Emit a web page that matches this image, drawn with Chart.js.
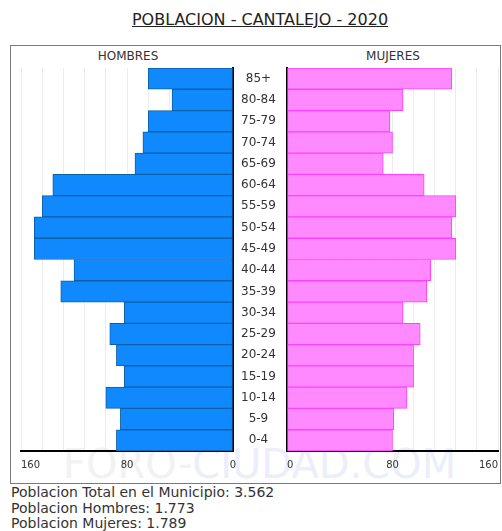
<!DOCTYPE html>
<html>
<head>
<meta charset="utf-8">
<script src="https://cdn.jsdelivr.net/npm/chart.js@4"></script>
<style>
  html, body { margin:0; padding:0; background:#fff; overflow:hidden; }
  body { width:502px; height:531px; position:relative; font-family:"DejaVu Sans", Verdana, sans-serif; color:#333; }
  #title { position:absolute; left:0; width:520px; top:10px; text-align:center; font-size:16px; text-decoration:underline; color:#222; }
  #frame { position:absolute; left:10px; top:45px; width:489px; height:437px; border:1px solid #7a7a7a; }
  .side { position:absolute; top:49px; font-size:12px; color:#333; width:120px; text-align:center; }
  #wm { position:absolute; left:63px; top:441px; font-size:40px; white-space:nowrap; color:#f2f2f2; z-index:0; }
  #wm span { color:#eceefa; }
  canvas { position:absolute; z-index:1; }
  #footer { position:absolute; left:11px; top:485px; font-size:14px; line-height:15.7px; color:#333; }
</style>
</head>
<body>
<div id="title">POBLACION - CANTALEJO - 2020</div>
<div id="frame"></div>
<div class="side" style="left:68px">HOMBRES</div>
<div class="side" style="left:333px">MUJERES</div>
<div id="wm">FORO-<span>CIUDAD.COM</span></div>
<canvas id="left" width="287" height="416" style="left:0;top:60px;width:287px;height:416px"></canvas>
<canvas id="right" width="227" height="416" style="left:285px;top:60px;width:227px;height:416px"></canvas>
<div id="footer">Poblacion Total en el Municipio: 3.562<br>Poblacion Hombres: 1.773<br>Poblacion Mujeres: 1.789</div>
<script>
const ageGroups = ['85+','80-84','75-79','70-74','65-69','60-64','55-59','50-54','45-49','40-44','35-39','30-34','25-29','20-24','15-19','10-14','5-9','0-4'];
const hombres = [64, 46, 64, 68, 74, 136, 144, 150, 150, 120, 130, 82, 93, 88, 82, 96, 85, 88];
const mujeres = [125, 88, 78, 80, 73, 104, 128, 125, 128, 109, 106, 88, 101, 96, 96, 91, 81, 80];
const axisMax = 160;
const tickStep = 16;
const labelEvery = 80;

function xAxis(reverse, align, fmt) {
  return {
    type: 'linear', min: 0, max: axisMax, reverse: reverse,
    afterFit: s => { s.height = 25; s.paddingLeft = 0; s.paddingRight = 0; },
    ticks: {
      stepSize: tickStep, autoSkip: false, maxRotation: 0, padding: 8, align: align,
      color: '#333', font: { family: 'DejaVu Sans', size: 10 },
      callback: v => (v % labelEvery === 0 ? fmt(v) : '')
    },
    grid: { color: '#ececec', drawTicks: false, lineWidth: 1 },
    border: { color: '#000', width: 2 }
  };
}

const common = {
  indexAxis: 'y', responsive: false, animation: false,
  plugins: { legend: { display: false }, tooltip: { enabled: false }, title: { display: false } },
};

new Chart(document.getElementById('left'), {
  type: 'bar',
  data: { labels: ageGroups, datasets: [{ data: hombres, backgroundColor: '#1089ff', borderColor: '#0d5fa6', borderWidth: 1, borderSkipped: false, barPercentage: 1, categoryPercentage: 1 }] },
  options: Object.assign({}, common, {
    layout: { autoPadding: false, padding: { left: 21, top: 8, right: 0, bottom: 0 } },
    scales: {
      x: xAxis(true, 'center', v => (v === axisMax ? '      ' + v : String(v))),
      y: {
        position: 'right',
        afterFit: s => { s.width = 54; },
        ticks: { crossAlign: 'center', padding: 0, color: '#333', font: { family: 'DejaVu Sans', size: 12 } },
        grid: { display: false },
        border: { color: '#000', width: 2 }
      }
    }
  })
});

new Chart(document.getElementById('right'), {
  type: 'bar',
  data: { labels: ageGroups, datasets: [{ data: mujeres, backgroundColor: '#ff8aff', borderColor: '#ff40ff', borderWidth: 1, borderSkipped: false, barPercentage: 1, categoryPercentage: 1 }] },
  options: Object.assign({}, common, {
    layout: { autoPadding: false, padding: { left: 2, top: 8, right: 14, bottom: 0 } },
    scales: {
      x: xAxis(false, 'inner', v => String(v)),
      y: {
        position: 'left',
        afterFit: s => { s.width = 0; },
        ticks: { display: false },
        grid: { display: false },
        border: { color: '#000', width: 2 }
      }
    }
  })
});
</script>
</body>
</html>
